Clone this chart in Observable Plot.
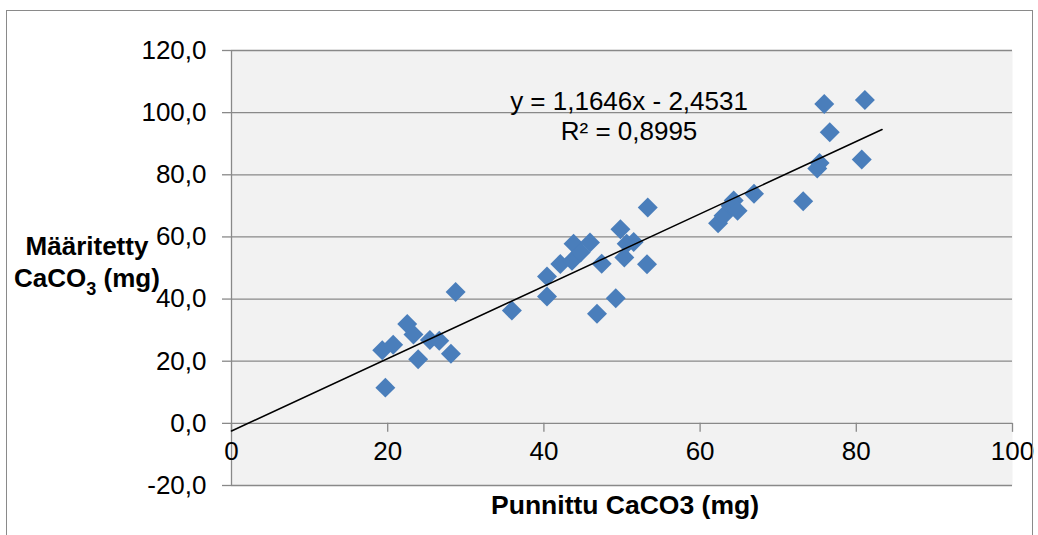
<!DOCTYPE html>
<html>
<head>
<meta charset="utf-8">
<script src="https://cdn.jsdelivr.net/npm/d3@7"></script>
<script src="https://cdn.jsdelivr.net/npm/@observablehq/plot@0.6"></script>
<style>
html, body { margin: 0; padding: 0; background: #fff; }
#wrap { position: relative; width: 1038px; height: 535px; overflow: hidden; font-family: "Liberation Sans", Arial, sans-serif; }
#chart { position: absolute; left: 0; top: 0; }
#border { position: absolute; left: 6px; top: 10px; width: 1025px; height: 600px; border: 1px solid #8a8a8a; pointer-events: none; }
#ytitle { position: absolute; left: 0; top: 230px; width: 174px; text-align: center; font-weight: bold; font-size: 26px; line-height: 32px; color: #000; }
#ytitle sub { font-size: 18px; line-height: 0; vertical-align: -8px; }
</style>
</head>
<body>
<div id="wrap">
  <div id="chart"></div>
  <div id="ytitle">Määritetty<br>CaCO<sub>3</sub> (mg)</div>
  <div id="border"></div>
</div>
<script>
// Punnittu CaCO3 (mg) — weighed
const weighed = [19.3, 19.7, 20.7, 22.5, 23.3, 23.9, 25.4, 26.6, 28.1, 28.7,
  35.9, 40.4, 40.4, 42.1, 43.8, 43.6, 44.7, 45.9, 46.8, 47.4,
  49.2, 49.8, 50.3, 50.6, 51.5, 53.2, 53.3, 62.3, 63.0, 63.9,
  64.3, 64.8, 66.9, 73.2, 75.0, 75.3, 75.9, 76.6, 80.7, 81.1];
// Määritetty CaCO3 (mg) — determined
const determined = [23.5, 11.5, 25.3, 32.0, 28.6, 20.6, 26.8, 26.6, 22.4, 42.3,
  36.3, 40.8, 47.3, 51.3, 57.8, 52.3, 55.0, 58.2, 35.3, 51.4,
  40.3, 62.5, 53.4, 57.8, 58.4, 51.2, 69.5, 64.4, 66.8, 70.0,
  71.7, 68.4, 73.9, 71.5, 82.0, 83.8, 102.8, 93.7, 84.9, 104.1];

const yTicks = [-20, 0, 20, 40, 60, 80, 100, 120];
const yTickLabels = ["-20,0", "0,0", "20,0", "40,0", "60,0", "80,0", "100,0", "120,0"];
const xTicks = [0, 20, 40, 60, 80, 100];
const xTickLabels = ["0", "20", "40", "60", "80", "100"];

const slope = 1.1646;
const intercept = -2.4531;
const trendRange = [0, 83.3];
const equationLines = ["y = 1,1646x - 2,4531", "R² = 0,8995"];
const xTitle = "Punnittu CaCO3 (mg)";

const points = weighed.map((x, i) => ({x, y: determined[i]}));
const trend = trendRange.map(x => ({x, y: slope * x + intercept}));

const gray = "#898989";
const chart = Plot.plot({
  width: 1038,
  height: 535,
  marginLeft: 231,
  marginRight: 26,
  marginTop: 50,
  marginBottom: 50,
  style: {fontFamily: "'Liberation Sans', Arial, sans-serif", background: "transparent", color: "#000"},
  x: {domain: [0, 100], axis: null},
  y: {domain: [-20, 120], axis: null},
  marks: [
    Plot.frame({fill: "#f2f2f2", stroke: null}),
    Plot.ruleY(yTicks, {stroke: gray, strokeWidth: 1.3}),
    Plot.ruleX([0], {stroke: gray, strokeWidth: 1.3}),
    Plot.axisY({ticks: yTicks, tickFormat: d => yTickLabels[yTicks.indexOf(d)], label: null, tickSize: 9, tickPadding: 16, fontSize: 26, stroke: gray, strokeWidth: 1.3, fill: "#000"}),
    Plot.ruleX(xTicks, {x: d => d, y1: 0, y2: 0, insetBottom: -9, stroke: gray, strokeWidth: 1.3}),
    Plot.text(xTicks, {x: d => d, y: 0, text: (d, i) => xTickLabels[i], dy: 18, lineAnchor: "top", fontSize: 26, fill: "#000"}),
    Plot.dot(points, {x: "x", y: "y", symbol: "diamond2", r: 9, fill: "#4a7ebb", stroke: null}),
    Plot.line(trend, {x: "x", y: "y", stroke: "#000", strokeWidth: 1.5}),
    Plot.text([equationLines.join("\n")], {x: 50.9, y: 99.1, lineHeight: 1.154, fontSize: 26, fill: "#000", textAnchor: "middle"}),
    Plot.text([xTitle], {frameAnchor: "bottom", dx: 3, dy: 10, lineAnchor: "top", fontSize: 26.5, fontWeight: "bold", fill: "#000"})
  ]
});
document.getElementById("chart").appendChild(chart);
</script>
</body>
</html>
